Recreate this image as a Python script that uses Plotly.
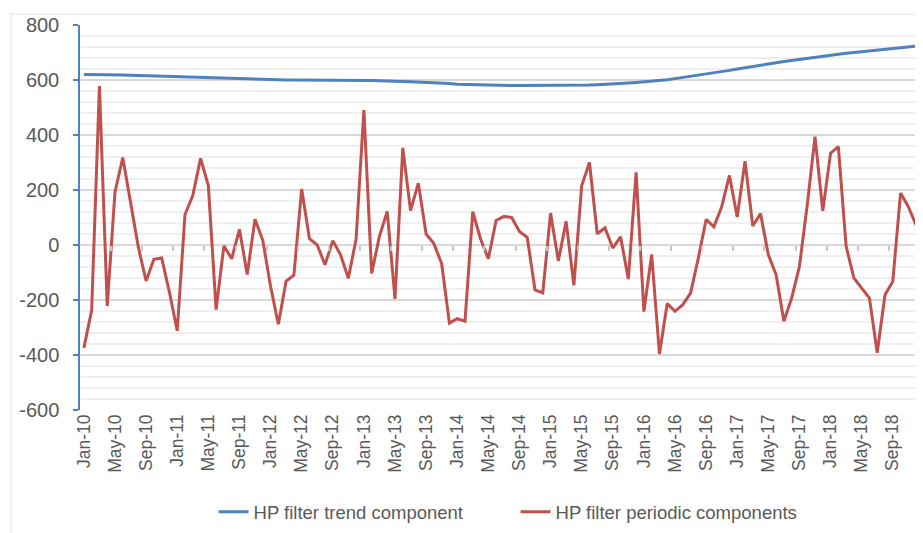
import plotly.graph_objects as go

months = ["Jan", "Feb", "Mar", "Apr", "May", "Jun", "Jul", "Aug", "Sep", "Oct", "Nov", "Dec"]
years = ["10", "11", "12", "13", "14", "15", "16", "17", "18"]
categories = [f"{m}-{y}" for y in years for m in months]

trend = [
    620, 620, 620, 619, 619, 618, 617, 616, 615, 614, 614, 613,
    612, 611, 610, 609, 608, 607, 606, 605, 604, 603, 603, 602,
    601, 601, 600, 600, 600, 599, 599, 599, 599, 599, 599, 599,
    598, 598, 597, 597, 596, 595, 594, 593, 591, 590, 588, 587,
    585, 584, 583, 582, 581, 581, 580, 580, 580, 580, 580, 580,
    580, 580, 580, 581, 581, 582, 583, 584, 585, 587, 589, 591,
    593, 595, 598, 601, 605, 609, 614, 618, 622, 626, 630, 635,
    640, 645, 650, 655, 659, 663, 667, 671, 675, 679, 683, 687,
    691, 694, 697, 700, 703, 706, 709, 712, 715, 718, 721, 723,
]

periodic = [
    -374, -237, 578, -222, 193, 318, 155, -8, -131, -52, -47, -172,
    -312, 111, 180, 315, 216, -235, -3, -50, 57, -107, 94, 17,
    -150, -288, -131, -110, 204, 23, 0, -72, 16, -36, -121, 22,
    491, -103, 32, 122, -196, 353, 125, 225, 40, 5, -68, -284,
    -268, -277, 121, 22, -50, 89, 104, 100, 49, 28, -163, -174,
    116, -58, 86, -147, 215, 300, 41, 62, -11, 30, -124, 264,
    -242, -34, -396, -213, -241, -217, -175, -48, 93, 66, 139, 253,
    102, 305, 69, 114, -36, -108, -277, -193, -78, 145, 394, 124,
    334, 358, -4, -120, -157, -193, -392, -181, -133, 189, 139, 72,
]

y_tickvals = [800, 600, 400, 200, 0, -200, -400, -600]
y_ticktext = ["800", "600", "400", "200", "0", "-200", "-400", "-600"]

series_names = ["HP filter trend component", "HP filter periodic components"]

x_idx = list(range(len(categories)))
x_tickvals = x_idx[::4]
x_ticktext = categories[::4]
boundary_ticks = [k - 0.5 for k in range(4, len(categories), 4)]

BLUE = "#4F81BD"
RED = "#C0504D"
GRAY = "#595959"
FONT = "Liberation Sans, Arial, sans-serif"

fig = go.Figure()
fig.add_trace(go.Scatter(x=x_idx, y=trend, mode="lines", name=series_names[0],
                         line=dict(color=BLUE, width=3)))
fig.add_trace(go.Scatter(x=x_idx, y=periodic, mode="lines", name=series_names[1],
                         line=dict(color=RED, width=3)))
# helper trace for the tick-mark axis at y = 0
fig.add_trace(go.Scatter(x=[0, len(categories) - 1], y=[None, None], xaxis="x2",
                         showlegend=False, hoverinfo="skip", mode="lines"))

rng = [-0.5, len(categories) - 0.5]
zero_pos = (0 - (-600)) / 1400

# page body has an 8px margin, so the figure is shrunk by 8px and margins shifted
fig.update_layout(
    width=915, height=525,
    margin=dict(l=72, r=3, t=17, b=122),
    paper_bgcolor="white", plot_bgcolor="white",
    font=dict(family=FONT, color=GRAY),
    xaxis=dict(range=rng, tickvals=x_tickvals, ticktext=x_ticktext, tickangle=-90,
               showgrid=False, showline=False, zeroline=False, ticks="",
               tickfont=dict(size=17.5, color=GRAY, family=FONT)),
    xaxis2=dict(range=rng, overlaying="x", anchor="free", position=zero_pos,
                side="bottom", tickvals=boundary_ticks, showticklabels=False,
                ticks="outside", ticklen=5, tickwidth=1.5, tickcolor="#c8c8c8",
                showgrid=False, showline=False, zeroline=False),
    yaxis=dict(range=[-600, 800], tickvals=y_tickvals, ticktext=y_ticktext,
               showgrid=True, gridcolor="#d9d9d9", gridwidth=1.5,
               minor=dict(dtick=40, tick0=0, showgrid=True, gridcolor="#efefef", gridwidth=1.5),
               showline=True, linecolor=BLUE, linewidth=1.5,
               ticks="outside", ticklen=5, tickwidth=1.5, tickcolor=BLUE,
               ticklabelstandoff=10,
               zeroline=False, tickfont=dict(size=20, color=GRAY, family=FONT)),
    legend=dict(orientation="h", x=0.5185, xanchor="center", y=-0.262, yanchor="middle",
                font=dict(size=18.5, color=GRAY, family=FONT), entrywidth=257,
                bgcolor="rgba(0,0,0,0)"),
    showlegend=True,
    shapes=[dict(type="rect", xref="paper", yref="paper",
                 x0=(11 - 80) / 840, x1=(930 - 80) / 840,
                 y0=(411 - 540) / 386, y1=(411 - 14) / 386,
                 line=dict(color="#e3e3e3", width=1), fillcolor="rgba(0,0,0,0)", layer="below")],
)

fig.write_html("out.html")
